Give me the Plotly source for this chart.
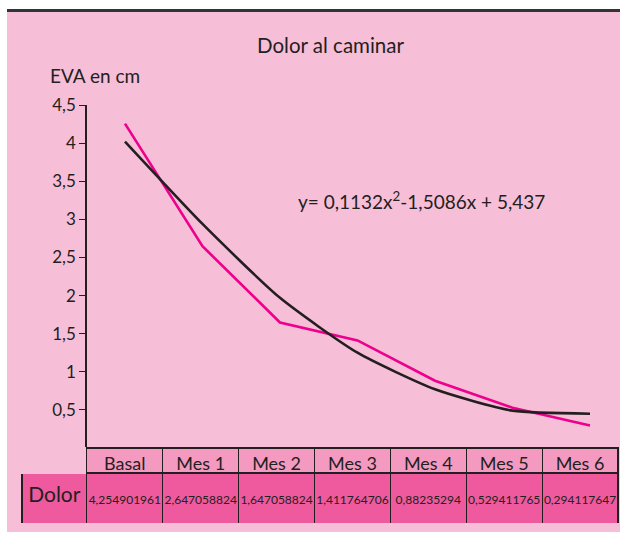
import plotly.graph_objects as go

# ---- data ----
categories = ["Basal", "Mes 1", "Mes 2", "Mes 3", "Mes 4", "Mes 5", "Mes 6"]
dolor = [4.254901961, 2.647058824, 1.647058824, 1.411764706, 0.88235294, 0.529411765, 0.294117647]
trend = [4.02, 2.94, 1.97, 1.25, 0.77, 0.49, 0.45]
series_name = "Dolor"
y_tickvals = [0, 0.5, 1, 1.5, 2, 2.5, 3, 3.5, 4, 4.5]
y_ticktext = ["", "0,5", "1", "1,5", "2", "2,5", "3", "3,5", "4", "4,5"]
title_text = "Dolor al caminar"
ylabel_text = "EVA en cm"
equation_text = "y= 0,1132x<sup>2</sup>-1,5086x + 5,437"

# ---- style ----
W, H = 620, 540
BG = "#F7BED8"
HEAD = "#F49AC1"
CELL = "#EE5A9D"
MAG = "#EC008C"
DARK = "#231F20"
FONT = "Lato"

def px(x):
    return x / W

def py(y):
    return 1 - y / H

fig = go.Figure()

fig.add_trace(go.Scatter(
    x=list(range(len(categories))), y=dolor, mode="lines",
    line=dict(color=MAG, width=2.6), name=series_name,
    xaxis="x", yaxis="y", showlegend=False, hoverinfo="skip"))
fig.add_trace(go.Scatter(
    x=list(range(len(categories))), y=trend, mode="lines",
    line=dict(color=DARK, width=2.6, shape="spline", smoothing=0.6),
    xaxis="x", yaxis="y", showlegend=False, hoverinfo="skip"))

# cell texts (a blank first line pushes the value down to mid-cell)
value_cells = [" <br><span style='font-size:12px'>" + str(v).replace(".", ",") + "</span>"
               for v in dolor]
name_cell = "<br>" + series_name

fig.add_trace(go.Table(
    domain=dict(x=[px(22), px(618)], y=[py(524), py(448)]),
    columnwidth=[65] + [76] * len(categories),
    header=dict(
        values=[" "] + categories,
        fill=dict(color=[BG] + [HEAD] * len(categories)),
        line=dict(color=[BG] + [DARK] * len(categories), width=1.2),
        font=dict(family=FONT, size=18, color=DARK),
        align="center", height=25),
    cells=dict(
        values=[[name_cell]] + [[t] for t in value_cells],
        fill=dict(color=CELL),
        line=dict(color=DARK, width=1.2),
        font=dict(family=FONT, size=[21] + [10] * len(categories), color=DARK),
        align="center", height=51),
))

fig.update_layout(
    width=W, height=H,
    margin=dict(l=0, r=0, t=0, b=0, pad=0, autoexpand=False),
    paper_bgcolor="white", plot_bgcolor="rgba(0,0,0,0)",
    font=dict(family=FONT, color=DARK),
    xaxis=dict(domain=[px(87), 1.0], range=[-0.49, 6.387],
               showticklabels=False, showgrid=False, zeroline=False,
               showline=False, ticks=""),
    yaxis=dict(domain=[py(448), py(105)], range=[0, 4.5],
               tickvals=y_tickvals, ticktext=y_ticktext,
               ticks="outside", ticklen=6, tickcolor=DARK, tickwidth=1.2,
               showline=True, linecolor=DARK, linewidth=1.5,
               showgrid=False, zeroline=False, automargin=False,
               tickfont=dict(family=FONT, size=17, color=DARK)),
    shapes=[
        dict(type="rect", xref="paper", yref="paper",
             x0=px(7), x1=1.0, y0=py(532), y1=py(12),
             fillcolor=BG, line=dict(width=0), layer="below"),
        dict(type="rect", xref="paper", yref="paper",
             x0=px(7), x1=1.0, y0=py(12), y1=py(9),
             fillcolor="#333333", line=dict(width=0), layer="above"),
    ],
    annotations=[
        dict(text=title_text, xref="paper", yref="paper", x=px(330), y=py(45),
             xanchor="center", yanchor="middle", showarrow=False,
             font=dict(family=FONT, size=20.5, color=DARK)),
        dict(text=ylabel_text, xref="paper", yref="paper", x=px(48), y=py(76),
             xanchor="left", yanchor="middle", showarrow=False,
             font=dict(family=FONT, size=19, color=DARK)),
        dict(text=equation_text, xref="paper", yref="paper", x=px(296), y=py(200),
             xanchor="left", yanchor="middle", showarrow=False,
             font=dict(family=FONT, size=19, color=DARK)),
    ],
)

fig.write_html(
    "out.html",
    config={"displayModeBar": False},
    post_script="document.body.style.margin='0';document.body.style.overflow='hidden';",
)
